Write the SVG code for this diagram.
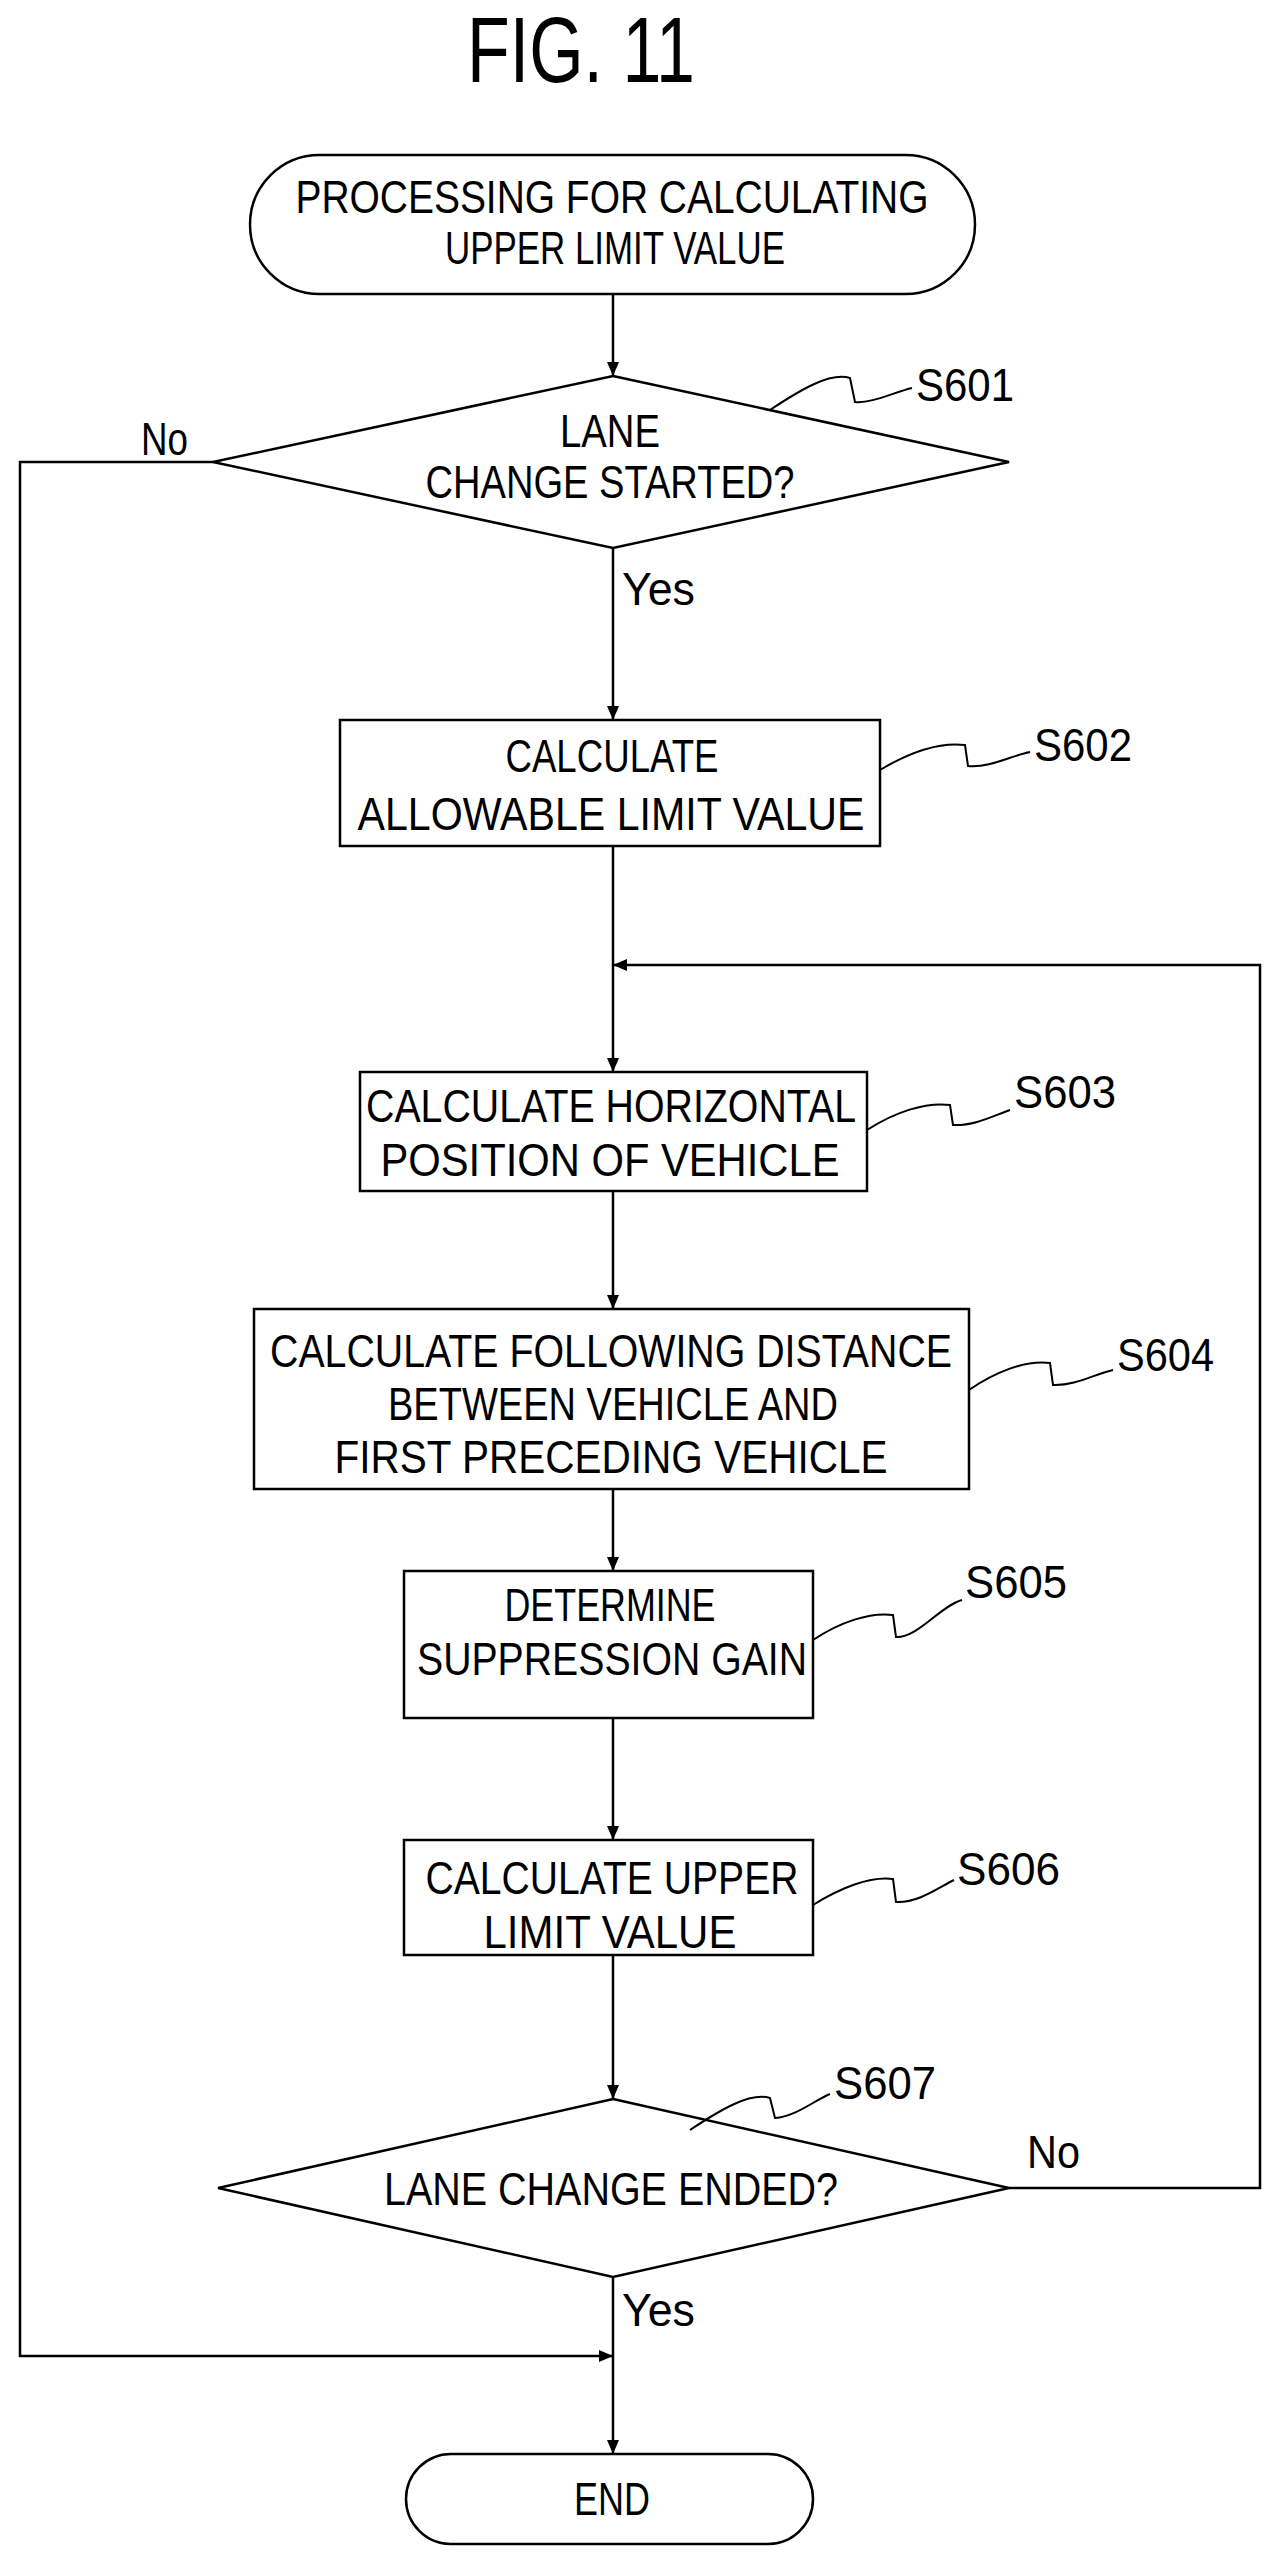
<svg xmlns="http://www.w3.org/2000/svg" width="1278" height="2566" viewBox="0 0 1278 2566">
<defs>
<style>
.s{fill:#fff;stroke:#000;stroke-width:2.5}
.c{fill:none;stroke:#000;stroke-width:2.5}
.q{fill:none;stroke:#000;stroke-width:2}
text{font-family:"Liberation Sans",Arial,sans-serif;font-size:46px;fill:#000}
.m{text-anchor:middle}
</style>
<marker id="a" viewBox="0 0 14 12" refX="14" refY="6" markerWidth="14" markerHeight="12" orient="auto" markerUnits="userSpaceOnUse"><path d="M0,0 L14,6 L0,12 Z" fill="#000"/></marker>
</defs>
<rect width="1278" height="2566" fill="#fff"/>
<text x="581" y="82" class="m" style="font-size:92px" textLength="228" lengthAdjust="spacingAndGlyphs">FIG. 11</text>
<g id="connectors">
<path class="c" d="M613,294 V376" marker-end="url(#a)"/>
<path class="c" d="M613,548 V720" marker-end="url(#a)"/>
<path class="c" d="M613,846 V1072" marker-end="url(#a)"/>
<path class="c" d="M613,1191 V1309" marker-end="url(#a)"/>
<path class="c" d="M613,1489 V1571" marker-end="url(#a)"/>
<path class="c" d="M613,1718 V1840" marker-end="url(#a)"/>
<path class="c" d="M613,1955 V2099" marker-end="url(#a)"/>
<path class="c" d="M613,2277 V2454" marker-end="url(#a)"/>
<path class="c" d="M1009,2188 H1260 V965 H613" marker-end="url(#a)"/>
<path class="c" d="M213,462 H20 V2356 H613" marker-end="url(#a)"/>
<text x="141" y="455" textLength="47" lengthAdjust="spacingAndGlyphs">No</text>
<text x="622" y="605" textLength="73" lengthAdjust="spacingAndGlyphs">Yes</text>
<text x="1027" y="2168" textLength="53" lengthAdjust="spacingAndGlyphs">No</text>
<text x="622" y="2326" textLength="73" lengthAdjust="spacingAndGlyphs">Yes</text>
</g>
<g id="start">
<rect class="s" x="250" y="155" width="725" height="139" rx="69.5"/>
<text x="612" y="213" class="m" textLength="633" lengthAdjust="spacingAndGlyphs">PROCESSING FOR CALCULATING</text>
<text x="615" y="264" class="m" textLength="340" lengthAdjust="spacingAndGlyphs">UPPER LIMIT VALUE</text>
</g>
<g id="S601">
<polygon class="s" points="613,376 1009,462 613,548 213,462"/>
<text x="610" y="447" class="m" textLength="100" lengthAdjust="spacingAndGlyphs">LANE</text>
<text x="610" y="498" class="m" textLength="369" lengthAdjust="spacingAndGlyphs">CHANGE STARTED?</text>
<path class="q" d="M770,410 C800,390 830,372 850,378 L855,402 C870,404 895,392 912,388"/>
<text x="916" y="401" textLength="98" lengthAdjust="spacingAndGlyphs">S601</text>
</g>
<g id="S602">
<rect class="s" x="340" y="720" width="540" height="126"/>
<text x="612" y="772" class="m" textLength="213" lengthAdjust="spacingAndGlyphs">CALCULATE</text>
<text x="611" y="830" class="m" textLength="507" lengthAdjust="spacingAndGlyphs">ALLOWABLE LIMIT VALUE</text>
<path class="q" d="M880,770 C910,752 940,742 965,745 L968,766 C990,768 1010,756 1030,752"/>
<text x="1034" y="761" textLength="98" lengthAdjust="spacingAndGlyphs">S602</text>
</g>
<g id="S603">
<rect class="s" x="360" y="1072" width="507" height="119"/>
<text x="611" y="1122" class="m" textLength="490" lengthAdjust="spacingAndGlyphs">CALCULATE HORIZONTAL</text>
<text x="610" y="1176" class="m" textLength="459" lengthAdjust="spacingAndGlyphs">POSITION OF VEHICLE</text>
<path class="q" d="M867,1130 C895,1112 925,1102 950,1105 L953,1125 C975,1126 995,1115 1010,1110"/>
<text x="1014" y="1108" textLength="102" lengthAdjust="spacingAndGlyphs">S603</text>
</g>
<g id="S604">
<rect class="s" x="254" y="1309" width="715" height="180"/>
<text x="611" y="1367" class="m" textLength="682" lengthAdjust="spacingAndGlyphs">CALCULATE FOLLOWING DISTANCE</text>
<text x="613" y="1420" class="m" textLength="450" lengthAdjust="spacingAndGlyphs">BETWEEN VEHICLE AND</text>
<text x="611" y="1473" class="m" textLength="553" lengthAdjust="spacingAndGlyphs">FIRST PRECEDING VEHICLE</text>
<path class="q" d="M969,1390 C995,1372 1025,1360 1050,1363 L1053,1385 C1075,1386 1095,1374 1113,1370"/>
<text x="1117" y="1371" textLength="97" lengthAdjust="spacingAndGlyphs">S604</text>
</g>
<g id="S605">
<rect class="s" x="404" y="1571" width="409" height="147"/>
<text x="610" y="1621" class="m" textLength="211" lengthAdjust="spacingAndGlyphs">DETERMINE</text>
<text x="612" y="1675" class="m" textLength="390" lengthAdjust="spacingAndGlyphs">SUPPRESSION GAIN</text>
<path class="q" d="M813,1640 C840,1622 870,1612 893,1615 L896,1637 C918,1638 940,1606 962,1600"/>
<text x="965" y="1598" textLength="102" lengthAdjust="spacingAndGlyphs">S605</text>
</g>
<g id="S606">
<rect class="s" x="404" y="1840" width="409" height="115"/>
<text x="612" y="1894" class="m" textLength="373" lengthAdjust="spacingAndGlyphs">CALCULATE UPPER</text>
<text x="610" y="1948" class="m" textLength="253" lengthAdjust="spacingAndGlyphs">LIMIT VALUE</text>
<path class="q" d="M813,1905 C840,1888 870,1876 893,1879 L896,1902 C918,1903 938,1888 954,1880"/>
<text x="957" y="1885" textLength="103" lengthAdjust="spacingAndGlyphs">S606</text>
</g>
<g id="S607">
<polygon class="s" points="613,2099 1009,2188 613,2277 218,2188"/>
<text x="611" y="2205" class="m" textLength="454" lengthAdjust="spacingAndGlyphs">LANE CHANGE ENDED?</text>
<path class="q" d="M690,2130 C720,2110 750,2092 770,2098 L775,2118 C795,2117 815,2100 830,2094"/>
<text x="834" y="2099" textLength="102" lengthAdjust="spacingAndGlyphs">S607</text>
</g>
<g id="end">
<rect class="s" x="406" y="2454" width="407" height="90" rx="45"/>
<text x="612" y="2515" class="m" textLength="76" lengthAdjust="spacingAndGlyphs">END</text>
</g>
</svg>
